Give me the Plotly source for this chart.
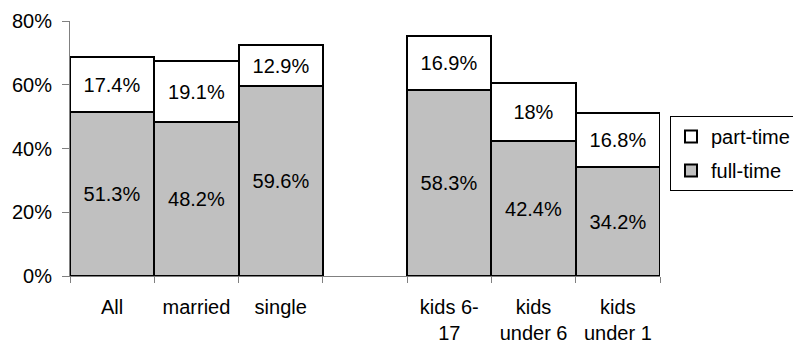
import plotly.graph_objects as go

categories = ["All", "married", "single", "gap", "kids 6-17", "kids under 6", "kids under 1"]
tick_labels = ["All", "married", "single", "", "kids 6-<br>17", "kids<br>under 6", "kids<br>under 1"]
full_time = [51.3, 48.2, 59.6, None, 58.3, 42.4, 34.2]
part_time = [17.4, 19.1, 12.9, None, 16.9, 18.0, 16.8]
full_text = ["51.3%", "48.2%", "59.6%", "", "58.3%", "42.4%", "34.2%"]
part_text = ["17.4%", "19.1%", "12.9%", "", "16.9%", "18%", "16.8%"]
y_ticks = [0, 20, 40, 60, 80]
y_tick_labels = ["0%", "20%", "40%", "60%", "80%"]

FONT = "Liberation Sans, Arial, sans-serif"
FS = 20

fig = go.Figure()
fig.add_trace(go.Bar(
    x=categories, y=full_time, name="full-time", legendgroup="ft", legendrank=2,
    marker=dict(color="#c0c0c0", line=dict(color="black", width=2)),
    text=full_text, textposition="inside", insidetextanchor="middle",
    textangle=0, constraintext="none",
    textfont=dict(family=FONT, size=FS, color="black"),
))
fig.add_trace(go.Bar(
    x=categories, y=part_time, name="part-time", legendgroup="pt", legendrank=1,
    marker=dict(color="white", line=dict(color="black", width=2)),
    text=part_text, textposition="inside", insidetextanchor="middle",
    textangle=0, constraintext="none",
    textfont=dict(family=FONT, size=FS, color="black"),
))

fig.update_layout(
    width=793, height=340,
    barmode="stack", bargap=0,
    margin=dict(l=70, r=133, t=21, b=63.5, autoexpand=False),
    plot_bgcolor="white", paper_bgcolor="white",
    font=dict(family=FONT, size=FS, color="black"),
    showlegend=True,
    legend=dict(
        xref="container", yref="container",
        x=670 / 793, y=1 - 116 / 340, xanchor="left", yanchor="top",
        traceorder="grouped", tracegroupgap=5,
        bordercolor="black", borderwidth=1,
        font=dict(family=FONT, size=FS, color="black"),
        itemwidth=30,
    ),
    xaxis=dict(
        type="category", categoryorder="array", categoryarray=categories,
        tickvals=categories, ticktext=tick_labels,
        tickson="boundaries", ticks="outside", ticklen=6, tickcolor="#808080",
        ticklabelstandoff=13, automargin=False,
        showline=True, linecolor="#808080", linewidth=1,
        showgrid=False, zeroline=False,
        tickfont=dict(family=FONT, size=FS, color="black"),
    ),
    yaxis=dict(
        range=[0, 80], tickvals=y_ticks, ticktext=y_tick_labels,
        ticks="outside", ticklen=7, tickcolor="#808080",
        ticklabelstandoff=6, automargin=False,
        showline=True, linecolor="#808080", linewidth=1,
        showgrid=False, zeroline=False,
        tickfont=dict(family=FONT, size=FS, color="black"),
    ),
)

fig.write_html("out.html")
